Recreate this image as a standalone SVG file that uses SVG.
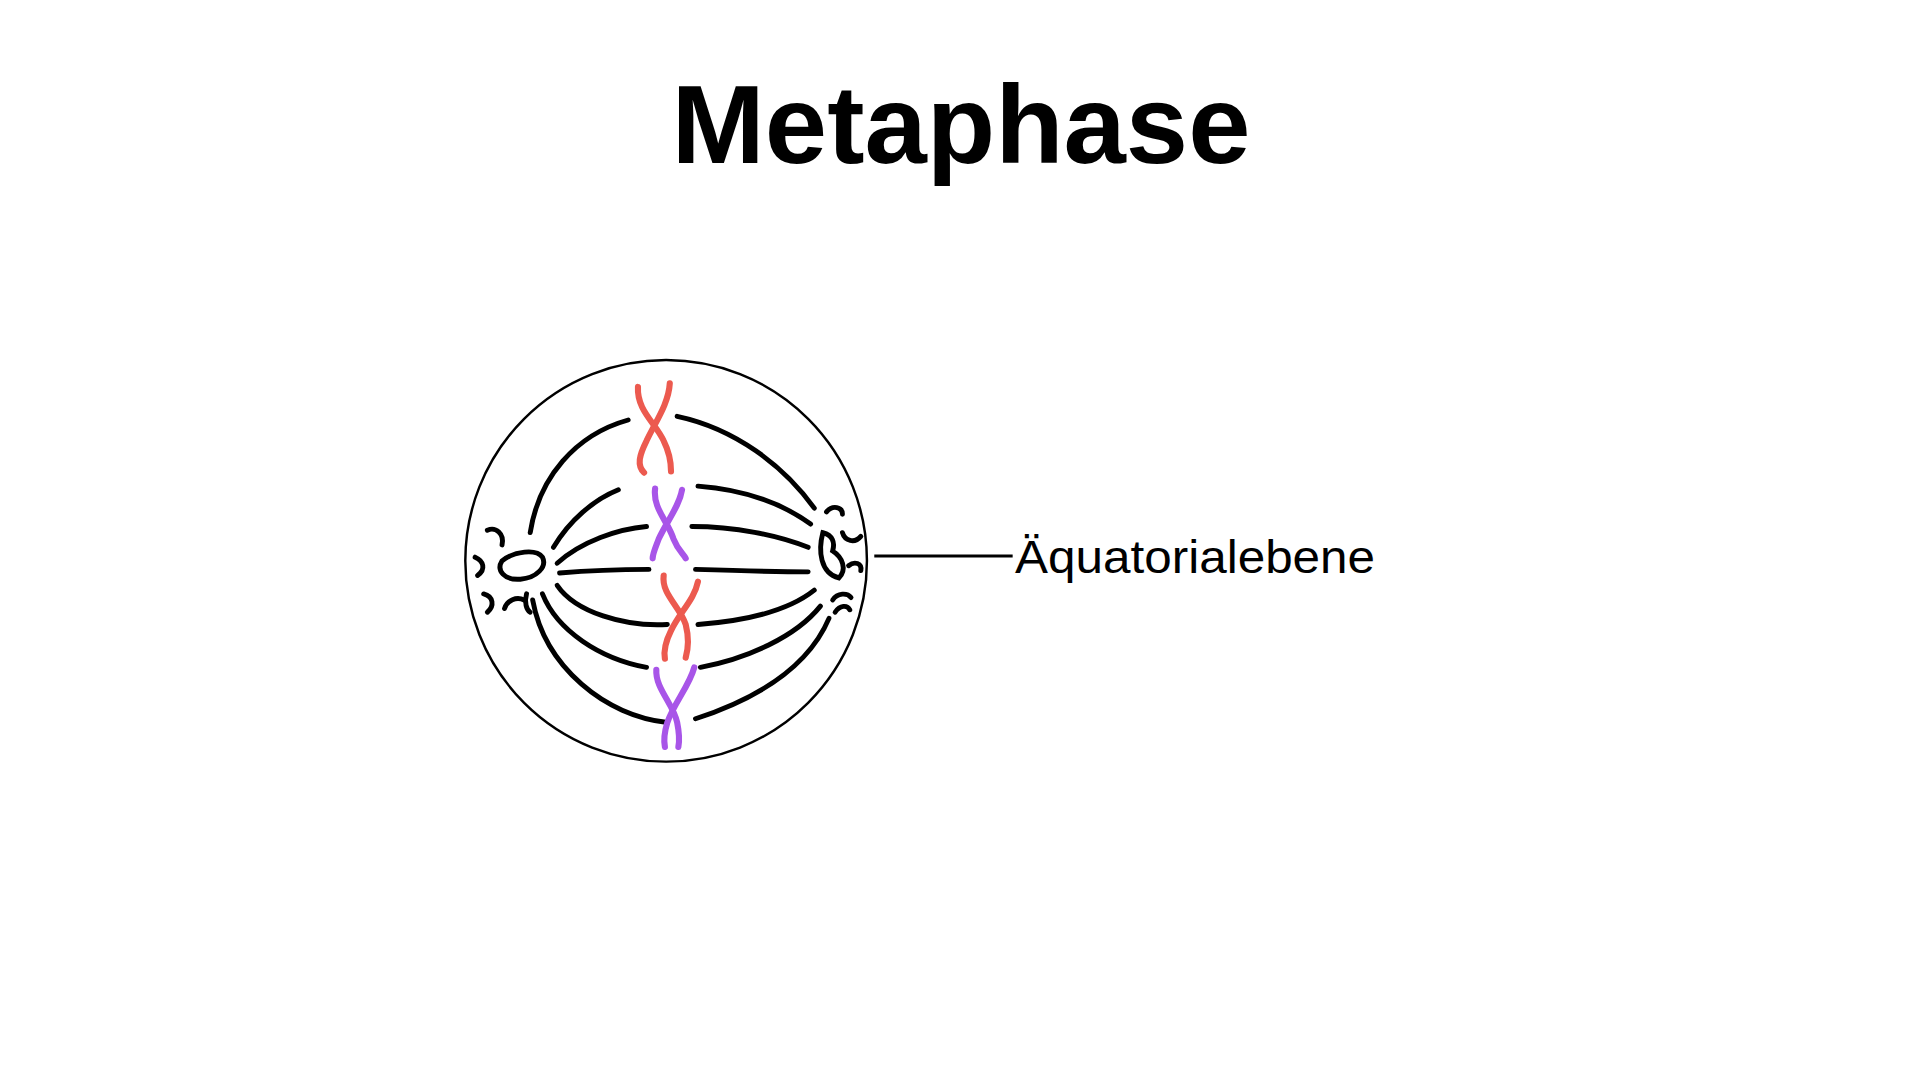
<svg xmlns="http://www.w3.org/2000/svg" width="1920" height="1080" viewBox="0 0 1920 1080">
<style>
.f{fill:none;stroke:#000;stroke-width:4;stroke-linecap:round}
.r{fill:none;stroke:#ec5a4f;stroke-width:5;stroke-linecap:round}
.p{fill:none;stroke:#a855e8;stroke-width:5;stroke-linecap:round}
text{font-family:"Liberation Sans",Arial,sans-serif;fill:#000}
</style>
<rect width="1920" height="1080" fill="#fff"/>
<text id="title" x="961" y="163" font-size="112" font-weight="bold" text-anchor="middle">Metaphase</text>
<g transform="scale(1.22449)">
<g id="cell">
<circle cx="544" cy="458" r="164" fill="none" stroke="#000" stroke-width="2"/>
</g>
<g id="spindle">
<path class="f" d="M433,435 C440,390 470,355 513,343"/>
<path class="f" d="M553,340 C600,350 640,380 665,415"/>
<path class="f" d="M452,447 C465,425 485,408 505,400"/>
<path class="f" d="M570,397 C610,400 640,412 662,428"/>
<path class="f" d="M455,460 C475,442 505,432 528,430"/>
<path class="f" d="M565,430 C600,430 635,437 660,447"/>
<path class="f" d="M457,468 C480,466 510,465 530,465"/>
<path class="f" d="M568,465 C600,466 635,467 660,467"/>
<path class="f" d="M455,478 C470,500 510,512 545,510"/>
<path class="f" d="M570,510 C610,507 645,498 665,482"/>
<path class="f" d="M443,485 C455,515 490,538 528,545"/>
<path class="f" d="M572,545 C610,538 650,520 670,495"/>
<path class="f" d="M435,490 C445,545 495,585 545,590"/>
<path class="f" d="M568,587 C620,570 660,545 677,505"/>
</g>
<g id="poles">
<path class="f" d="M410,458 C420,450 438,448 443,455 C447,463 438,472 425,473 C412,474 405,466 410,458 Z"/>
<path class="f" d="M398,433 C405,430 412,436 410,445"/>
<path class="f" d="M388,455 C395,458 397,465 390,470"/>
<path class="f" d="M395,485 C403,487 404,495 398,500"/>
<path class="f" d="M412,497 C414,490 422,487 428,490"/>
<path class="f" d="M430,485 C428,492 430,498 433,500"/>
<path class="f" d="M672,435 C668,450 670,468 685,472 C692,465 688,455 680,450 C682,443 680,437 672,435 Z"/>
<path class="f" d="M675,418 C680,412 688,414 688,420"/>
<path class="f" d="M688,435 C690,442 698,444 703,438"/>
<path class="f" d="M693,462 C698,458 704,460 703,466"/>
<path class="f" d="M680,490 C684,484 692,484 695,488"/>
<path class="f" d="M682,500 C686,494 692,494 694,498"/>
</g>
<g id="chromosomes">
<path class="r" d="M521,316 C520,335 535,345 542,360 C548,372 548,380 548,385"/>
<path class="r" d="M547,313 C546,330 535,345 528,360 C522,372 520,380 526,386"/>
<path class="p" d="M535,399 C533,415 545,425 550,440 C554,450 558,452 560,456"/>
<path class="p" d="M557,400 C555,413 545,425 538,440 C535,448 533,452 533,456"/>
<path class="r" d="M542,470 C540,485 555,495 560,510 C563,522 562,530 560,537"/>
<path class="r" d="M570,475 C567,490 555,500 548,515 C543,525 542,532 543,538"/>
<path class="p" d="M536,547 C535,562 550,575 553,590 C555,600 555,605 554,610"/>
<path class="p" d="M567,545 C563,560 550,575 545,590 C542,600 542,605 543,610"/>
</g>
<g id="label">
<line x1="714" y1="454" x2="827" y2="454" stroke="#000" stroke-width="2.5"/>
<text x="829" y="468" font-size="38" textLength="294" lengthAdjust="spacingAndGlyphs">Äquatorialebene</text>
</g>
</g>
</svg>
